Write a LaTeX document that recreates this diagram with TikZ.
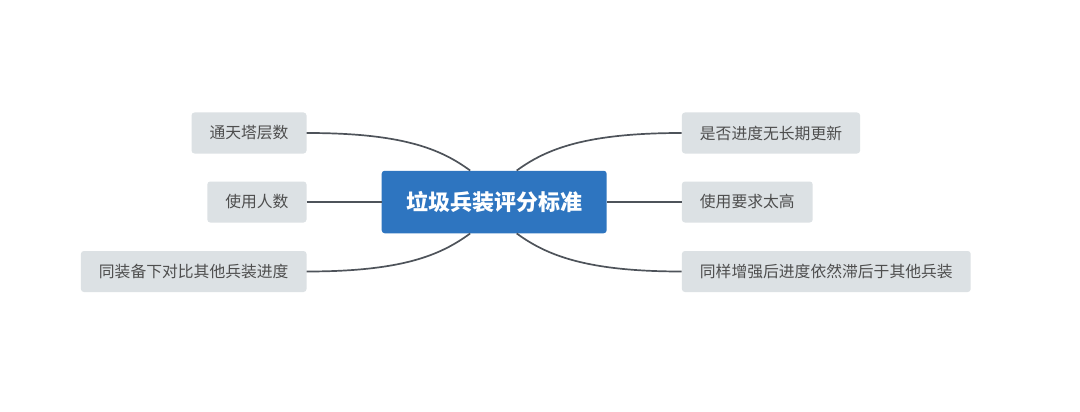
\documentclass[tikz,border=0pt]{standalone}
\usepackage{fontspec}
\setmainfont{Noto Sans CJK SC}
\usetikzlibrary{calc}
\definecolor{centerblue}{RGB}{46,117,192}
\definecolor{leaffill}{RGB}{220,225,228}
\definecolor{linegray}{RGB}{78,83,90}
\definecolor{leaftext}{RGB}{78,78,78}
\begin{document}
\begin{tikzpicture}[x=1pt,y=-1pt,
  leaf/.style={fill=leaffill,rounded corners=3pt,inner xsep=18pt,inner ysep=0pt,
    minimum height=41pt,text=leaftext,font=\fontsize{15.8}{18}\selectfont},
  root/.style={fill=centerblue,rounded corners=3pt,minimum width=225pt,minimum height=62.5pt,
    text=white,font=\fontsize{22}{26}\selectfont\bfseries},
  conn/.style={draw=linegray,line width=1.7pt}]
\path[use as bounding box,fill=white] (0,0) rectangle (1080,412);
\node[root] (c) at (494.2,202) {垃圾兵装评分标准};
\node[leaf,anchor=east] (l1) at (306.7,133) {通天塔层数};
\node[leaf,anchor=east] (l2) at (306.7,202) {使用人数};
\node[leaf,anchor=east] (l3) at (306.7,271.5) {同装备下对比其他兵装进度};
\node[leaf,anchor=west] (r1) at (681.7,133) {是否进度无长期更新};
\node[leaf,anchor=west] (r2) at (681.7,202) {使用要求太高};
\node[leaf,anchor=west] (r3) at (681.7,271.5) {同样增强后进度依然滞后于其他兵装};
\coordinate (ctl) at ($(c.north)+(-24,0)$);
\coordinate (ctr) at ($(c.north)+(22.5,0)$);
\coordinate (cbl) at ($(c.south)+(-24,0)$);
\coordinate (cbr) at ($(c.south)+(22.5,0)$);
\draw[conn] (l1.east) .. controls ($(l1.east)+(95,0)$) and ($(ctl)+(-30,-22)$) .. (ctl);
\draw[conn] (r1.west) .. controls ($(r1.west)+(-95,0)$) and ($(ctr)+(30,-22)$) .. (ctr);
\draw[conn] (l3.east) .. controls ($(l3.east)+(95,0)$) and ($(cbl)+(-30,22)$) .. (cbl);
\draw[conn] (r3.west) .. controls ($(r3.west)+(-95,0)$) and ($(cbr)+(30,22)$) .. (cbr);
\draw[conn] (l2.east) -- (c.west);
\draw[conn] (c.east) -- (r2.west);
\end{tikzpicture}
\end{document}
